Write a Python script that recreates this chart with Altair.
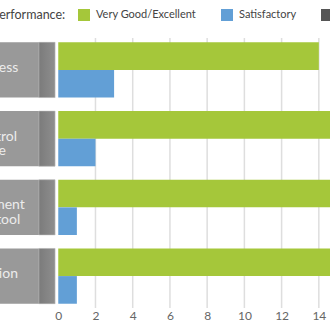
import altair as alt
import pandas as pd

categories = ["Responsiveness", "Quality Control\nCompliance", "Risk Management\nAssessment tool", "Documentation"]
series_names = ["Very Good/Excellent", "Satisfactory", "Poor"]
very_good = [14, 15, 15, 15]
satisfactory = [3, 2, 1, 1]
tick_values = [0, 2, 4, 6, 8, 10, 12, 14]
grid_values = [2, 4, 6, 8, 10, 12, 14]
colors = ["#a5c73a", "#629fd6", "#555555"]

rows = []
for c, v, s in zip(categories, very_good, satisfactory):
    rows.append({"category": c, "series": series_names[0], "value": v})
    rows.append({"category": c, "series": series_names[1], "value": s})
bars_df = pd.DataFrame(rows)
cat_df = pd.DataFrame({"category": categories})
grid_df = pd.DataFrame({"g": grid_values})

FONT = "Lato"
xscale = alt.Scale(domain=[-3.13, 14.6], zero=False, nice=False)
yscale = alt.Scale(domain=categories, paddingInner=0.195, paddingOuter=0.062)
xaxis = alt.Axis(values=tick_values, grid=False, domain=False, ticks=False,
                 labelFontSize=12, labelColor="#666666", labelFont=FONT,
                 labelPadding=2, title=None)

grid = alt.Chart(grid_df).mark_rule(color="#dedede", strokeWidth=1.5).encode(
    x=alt.X("g:Q", scale=xscale, axis=xaxis)
)

box = alt.Chart(cat_df).mark_bar(color="#999999", cornerRadius=0).encode(
    x=alt.datum(-8, scale=xscale, axis=xaxis),
    x2=alt.datum(-0.17),
    y=alt.Y("category:N", scale=yscale, axis=None),
)

strip = alt.Chart(cat_df).mark_bar(
    color=alt.Gradient(
        gradient="linear",
        stops=[alt.GradientStop(color="#7b7b7b", offset=0), alt.GradientStop(color="#8e8e8e", offset=1)],
        x1=0, x2=1, y1=0, y2=0,
    ),
    stroke="#c8c8c8", strokeWidth=0.5,
).encode(
    x=alt.datum(-1.04, scale=xscale, axis=xaxis),
    x2=alt.datum(-0.17),
    y=alt.Y("category:N", scale=yscale, axis=None),
)

labels = alt.Chart(cat_df).mark_text(
    align="center", baseline="middle", lineBreak="\n", fontSize=14,
    lineHeight=14.5, dy=-2, color="#ececec", font=FONT,
).encode(
    x=alt.datum(-4.74, scale=xscale, axis=xaxis),
    y=alt.Y("category:N", scale=yscale, axis=None),
    text="category:N",
)

bars = alt.Chart(bars_df).mark_bar().encode(
    x=alt.X("value:Q", scale=xscale, axis=xaxis),
    y=alt.Y("category:N", scale=yscale, axis=None),
    yOffset=alt.YOffset("series:N", scale=alt.Scale(domain=series_names[:2], paddingInner=0, paddingOuter=0)),
    color=alt.Color("series:N", scale=alt.Scale(domain=series_names, range=colors),
                    legend=alt.Legend(
                        title="Performance:", orient="none", legendX=-8, legendY=-29,
                        direction="horizontal", titleOrient="left", titleFontSize=12.5,
                        titleFontWeight="normal", titleColor="#444444", titleFont=FONT,
                        titlePadding=12, titleBaseline="middle",
                        symbolType="square", symbolSize=144, symbolStrokeWidth=0,
                        labelFontSize=11, labelColor="#444444", labelFont=FONT,
                        labelOffset=6, columnPadding=24)),
)

chart = alt.layer(grid, box, strip, labels, bars).properties(
    width=330, height=270,
    autosize=alt.AutoSizeParams(type="none"),
    padding={"left": 0, "top": 38, "right": 0, "bottom": 22},
    background="white",
).configure_view(stroke=None)

chart.save("out.html", embed_options={"renderer": "svg", "actions": False})
